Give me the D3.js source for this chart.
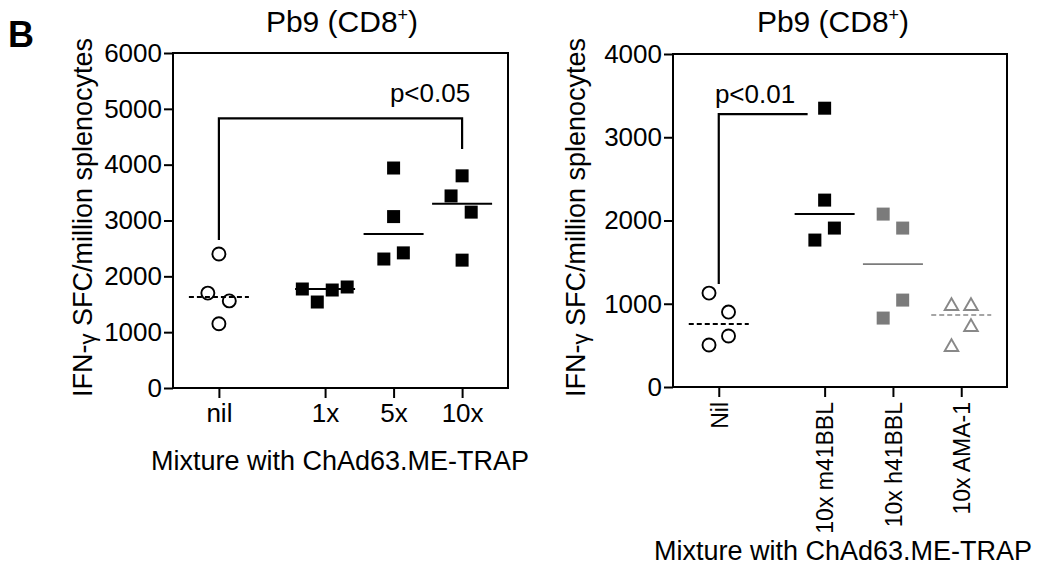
<!DOCTYPE html>
<html>
<head>
<meta charset="utf-8">
<script src="https://cdn.jsdelivr.net/npm/d3@7"></script>
<style>
  body { margin: 0; background: #fff; }
  svg { display: block; font-family: "Liberation Sans", Arial, Helvetica, sans-serif; }
</style>
</head>
<body>
<svg id="chart" width="1038" height="566"></svg>
<script>
// ---- data ----
var leftCategories = ["nil", "1x", "5x", "10x"];
var leftTicks = [0, 1000, 2000, 3000, 4000, 5000, 6000];
var leftNil = [2400, 1700, 1560, 1150];
var left1x = [1773, 1540, 1755, 1809];
var left5x = [3940, 3070, 2310, 2420];
var left10x = [3800, 3440, 3150, 2290];
var leftMedians = [1630, 1773, 2760, 3300];
// horizontal scatter of each point, in symbol widths
var leftLanes = [[0, -0.85, 0.8, 0], [-1.75, -0.6, 0.55, 1.7], [0, 0, -0.75, 0.75], [0, -0.85, 0.7, 0]];

var rightCategories = ["Nil", "10x m41BBL", "10x h41BBL", "10x AMA-1"];
var rightTicks = [0, 1000, 2000, 3000, 4000];
var rightNil = [1128, 900, 612, 504];
var rightM41 = [3349, 2245, 1909, 1765];
var rightH41 = [2077, 1909, 1044, 828];
var rightAma = [972, 972, 720, 480];
var rightMedians = [756, 2077, 1476, 864];
var rightLanes = [[-0.75, 0.75, 0.75, -0.75], [0, 0, 0.75, -0.75], [-0.75, 0.75, 0.75, -0.75], [-0.75, 0.75, 0.75, -0.75]];

var GRAY = "#7b7b7b";
var LANE_PX = 13;
var GAP = 0.55; // extra space after the first column

var svg = d3.select("#chart");

svg.append("text")
  .attr("x", 8).attr("y", 47)
  .attr("font-size", 36).attr("font-weight", "bold")
  .text("B");

function drawPanel(p) {
  var g = svg.append("g");
  var colPos = function (i) { return i + (i > 0 ? GAP : 0); };
  var x = d3.scaleLinear().domain([-0.67, 3 + GAP + 0.67]).range([p.x0, p.x1]);
  var y = d3.scaleLinear().domain([0, p.yMax]).range([p.y1, p.y0]);

  // title
  var t = g.append("text")
    .attr("x", p.titleX).attr("y", 32)
    .attr("text-anchor", "middle").attr("font-size", 30);
  t.append("tspan").text("Pb9 (CD8");
  t.append("tspan").attr("font-size", 18).attr("dy", -11).text("+");
  t.append("tspan").attr("dy", 11).text(")");

  // y axis
  var yAxis = g.append("g")
    .attr("transform", "translate(" + p.x0 + ",0)")
    .call(d3.axisLeft(y).tickValues(p.ticks).tickSize(9).tickSizeOuter(0).tickPadding(2).tickFormat(d3.format("d")));
  yAxis.select(".domain").remove();
  yAxis.selectAll("line").attr("stroke", "#000").attr("stroke-width", 2);
  yAxis.selectAll("text").attr("font-size", 26).attr("fill", "#000").attr("font-family", null);

  // x axis
  var xAxis = g.append("g")
    .attr("transform", "translate(0," + p.y1 + ")")
    .call(d3.axisBottom(x).tickValues(p.cats.map(function (c, i) { return colPos(i); }))
      .tickSize(10).tickSizeOuter(0)
      .tickFormat(function (d, i) { return p.cats[i]; }));
  xAxis.select(".domain").remove();
  xAxis.selectAll("line").attr("stroke", "#000").attr("stroke-width", 2);
  var xt = xAxis.selectAll("text").attr("fill", "#000").attr("font-family", null);
  if (p.rotate) {
    xt.attr("font-size", 23)
      .attr("transform", "rotate(-90)")
      .attr("text-anchor", "end")
      .attr("x", -15).attr("y", 0).attr("dy", "0.36em");
  } else {
    xt.attr("font-size", 26).attr("dy", 0).attr("y", 34);
  }

  // frame
  g.append("rect")
    .attr("x", p.x0).attr("y", p.y0)
    .attr("width", p.x1 - p.x0).attr("height", p.y1 - p.y0)
    .attr("fill", "none").attr("stroke", "#000").attr("stroke-width", 2);

  // axis titles
  var yl = g.append("text")
    .attr("transform", "translate(" + p.yLabelX + "," + ((p.y0 + p.y1) / 2 - 3) + ") rotate(-90)")
    .attr("text-anchor", "middle").attr("font-size", 27);
  yl.append("tspan").text("IFN-");
  yl.append("tspan").attr("font-size", 22).attr("dy", 3).text("\u03b3");
  yl.append("tspan").attr("dy", -3).text(" SFC/million splenocytes");

  g.append("text")
    .attr("x", p.xLabelX).attr("y", p.xLabelY)
    .attr("text-anchor", "middle").attr("font-size", 27)
    .text("Mixture with ChAd63.ME-TRAP");

  // groups
  p.groups.forEach(function (grp, i) {
    var cx = x(colPos(i));
    g.append("line")
      .attr("x1", cx - 30).attr("x2", cx + 30)
      .attr("y1", y(p.medians[i])).attr("y2", y(p.medians[i]))
      .attr("stroke", grp.color).attr("stroke-width", grp.lineWidth)
      .attr("stroke-dasharray", grp.dashed ? "5,3" : null);

    var sym = d3.symbol().type(grp.shape).size(grp.size);
    g.selectAll(null).data(grp.values).enter().append("path")
      .attr("d", sym)
      .attr("transform", function (d, j) {
        return "translate(" + (cx + p.lanes[i][j] * LANE_PX) + "," + y(d) + ")";
      })
      .attr("fill", grp.open ? "#fff" : grp.color)
      .attr("fill-opacity", grp.open ? 0 : 1)
      .attr("stroke", grp.open ? grp.color : "none")
      .attr("stroke-width", 1.9);
  });

  // significance bracket
  var b = p.bracket;
  var xa = x(colPos(b.from)), xb = x(colPos(b.to)) - b.shortBy;
  var path = "M" + xa + "," + y(b.footFrom) + "V" + y(b.top) + "H" + xb;
  if (b.footTo != null) path += "V" + y(b.footTo);
  g.append("path").attr("d", path)
    .attr("fill", "none").attr("stroke", "#000").attr("stroke-width", 2.2);
  g.append("text")
    .attr("x", p.pLabelX).attr("y", p.pLabelY)
    .attr("text-anchor", "middle").attr("font-size", 26)
    .text(b.label);
}

drawPanel({
  x0: 173, x1: 508, y0: 53, y1: 388, yMax: 6000,
  ticks: leftTicks, cats: leftCategories, rotate: false,
  titleX: 342, yLabelX: 92, xLabelX: 340, xLabelY: 470,
  medians: leftMedians, lanes: leftLanes,
  groups: [
    { values: leftNil, shape: d3.symbolCircle, size: 133, open: true, color: "#000", dashed: true, lineWidth: 2 },
    { values: left1x, shape: d3.symbolSquare, size: 169, open: false, color: "#000", dashed: false, lineWidth: 2 },
    { values: left5x, shape: d3.symbolSquare, size: 169, open: false, color: "#000", dashed: false, lineWidth: 2 },
    { values: left10x, shape: d3.symbolSquare, size: 169, open: false, color: "#000", dashed: false, lineWidth: 2 }
  ],
  bracket: { from: 0, to: 3, shortBy: 0, top: 4830, footFrom: 2650, footTo: 4280, label: "p<0.05" },
  pLabelX: 430, pLabelY: 102
});

drawPanel({
  x0: 673, x1: 1007, y0: 54, y1: 387, yMax: 4000,
  ticks: rightTicks, cats: rightCategories, rotate: true,
  titleX: 833, yLabelX: 585, xLabelX: 843, xLabelY: 560,
  medians: rightMedians, lanes: rightLanes,
  groups: [
    { values: rightNil, shape: d3.symbolCircle, size: 133, open: true, color: "#000", dashed: true, lineWidth: 2 },
    { values: rightM41, shape: d3.symbolSquare, size: 169, open: false, color: "#000", dashed: false, lineWidth: 2 },
    { values: rightH41, shape: d3.symbolSquare, size: 169, open: false, color: GRAY, dashed: false, lineWidth: 1.6 },
    { values: rightAma, shape: d3.symbolTriangle, size: 80, open: true, color: "#888", dashed: true, lineWidth: 1.6 }
  ],
  bracket: { from: 0, to: 1, shortBy: 17, top: 3277, footFrom: 1236, footTo: null, label: "p<0.01" },
  pLabelX: 755, pLabelY: 103
});
</script>
</body>
</html>
